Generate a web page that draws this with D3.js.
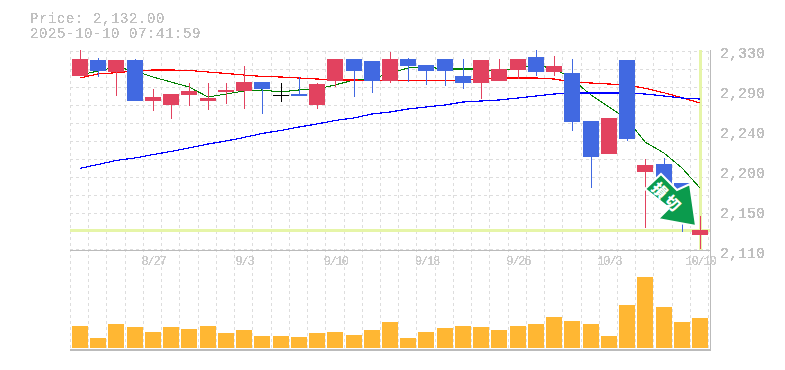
<!DOCTYPE html>
<html>
<head>
<meta charset="utf-8">
<script src="https://cdn.jsdelivr.net/npm/d3@7"></script>
<style>
  html, body { margin: 0; background: #fff; }
  svg { display: block; }
  text { font-family: "Liberation Mono", monospace; fill: #c0c0c0; }
</style>
</head>
<body>
<script>
const dates = ['8/21','8/22','8/25','8/26','8/27','8/28','8/29','9/1','9/2','9/3','9/4','9/5','9/8','9/9','9/10','9/11','9/12','9/16','9/17','9/18','9/19','9/22','9/24','9/25','9/26','9/29','9/30','10/1','10/2','10/3','10/6','10/7','10/8','10/9','10/10']
const opens = [2301,2319,2306,2319,2274,2270,2281,2274,2284,2285,2295,2280,2282,2270,2296,2320,2318,2296,2320,2314,2320,2301,2294,2296,2308,2322,2306,2305,2252,2216,2319,2196,2205,2184,2127]
const closes = [2320,2307,2319,2274,2278,2282,2285,2277,2286,2295,2287,2280,2279,2293,2320,2307,2296,2320,2312,2307,2307,2294,2319,2309,2320,2306,2312,2251,2212,2255,2232,2204,2183,2166,2132]
const highs = [2330,2321,2319,2320,2287,2282,2294,2294,2294,2312,2295,2294,2300,2294,2320,2320,2318,2328,2321,2314,2320,2320,2319,2320,2320,2330,2323,2320,2252,2255,2319,2210,2211,2184,2147]
const lows = [2301,2300,2279,2274,2263,2254,2268,2264,2271,2265,2260,2273,2279,2265,2289,2278,2283,2294,2295,2291,2290,2287,2276,2296,2298,2301,2301,2241,2178,2216,2230,2134,2170,2130,2111]
const volumes = [22,10,24,21,16,21,19,22,15,18,12,12,11,15,16,13,18,26,10,16,20,22,21,18,22,24,31,27,24,12,43,71,41,26,30]
const maShort = [2302.5,2306.9,2311.3,2306.9,2300.3,2294.8,2289.3,2278.3,2281.6,2284.9,2286,2283.8,2286,2287.1,2291.5,2297,2298.1,2304.7,2310.2,2311.3,2309.1,2309.1,2309.1,2305.8,2311.3,2312.4,2310.2,2298.1,2280.5,2267.3,2254.1,2228.8,2216.7,2200.2,2178.2]
const maMid = [2299.2,2303.6,2305,2306.9,2308,2308,2307.5,2305.8,2304.2,2302.5,2300.9,2300.3,2299.2,2298.1,2297,2297,2296.5,2296.5,2296.5,2296.5,2296.5,2297,2298.1,2299.2,2299.2,2299.2,2298.1,2294.8,2293.7,2292.6,2291.5,2287.9,2283,2277.5,2271.7]
const maLong = [2199.9,2204,2208.5,2211.2,2215,2218.4,2222.2,2226.6,2229.9,2233.8,2238.2,2241.5,2245.3,2248.6,2252.5,2255.2,2259.6,2261.8,2265.1,2267.3,2269.5,2272.8,2273.9,2275,2277.2,2279.4,2281.6,2282.7,2282.7,2282.7,2282.7,2281.6,2279.4,2277.2,2276.1]
const priceTicks = [2330,2286,2242,2198,2154,2110]
const dateTicks = ['8/27','9/3','9/10','9/18','9/26','10/3','10/10']
const lastPrice = 2132

const width = 785
const height = 370

const svg = d3.select('body').append('svg')
  .attr('width', width)
  .attr('height', height)

// hard threshold on alpha so text comes out jagged like the original
const filter = svg.append('defs').append('filter').attr('id', 'jag')
  .attr('x', 0).attr('y', 0).attr('width', 1).attr('height', 1)
filter.append('feComponentTransfer').append('feFuncA')
  .attr('type', 'discrete').attr('tableValues', '0 1 1')

const x = d3.scaleBand().domain(d3.range(dates.length)).range([70.9, 709.1])
const cx = (i) => Math.round(x(i) + x.bandwidth() / 2)
const y = d3.scaleLinear().domain([2110, 2330]).range([250, 50])
const py = (v) => Math.round(y(v))
const yVol = d3.scaleLinear().domain([0, 71]).range([348, 277])

// grid
const grid = svg.append('g')
  .attr('stroke', '#ddd')
  .attr('stroke-dasharray', '3,3')
  .attr('shape-rendering', 'crispEdges')
grid.selectAll('line.v')
  .data(d3.range(dates.length + 1))
  .enter().append('line')
  .attr('class', 'v')
  .attr('x1', (i) => cx(0) - 9.5 + Math.round(i * x.bandwidth()))
  .attr('x2', (i) => cx(0) - 9.5 + Math.round(i * x.bandwidth()))
  .attr('y1', 51)
  .attr('y2', 350)
grid.selectAll('line.h')
  .data(d3.range(51, 250, 18))
  .enter().append('line')
  .attr('class', 'h')
  .attr('x1', 70)
  .attr('x2', 710)
  .attr('y1', (d) => d + 0.5)
  .attr('y2', (d) => d + 0.5)

// last price highlight
svg.append('rect')
  .attr('x', 70).attr('width', 640)
  .attr('y', py(lastPrice) - 1).attr('height', 3)
  .attr('fill', '#e6f5a8')
svg.append('rect')
  .attr('x', cx(34) - 1).attr('width', 3)
  .attr('y', 50).attr('height', 200)
  .attr('fill', '#e6f5a8')

// frame
const frame = svg.append('g').attr('fill', '#bbb')
frame.append('rect').attr('x', 70).attr('y', 250).attr('width', 640).attr('height', 1)
frame.append('rect').attr('x', 70).attr('y', 349).attr('width', 641).attr('height', 2)
frame.append('rect').attr('x', 710).attr('y', 50).attr('width', 1).attr('height', 300)

// moving averages
const line = d3.line().x((d, i) => cx(i)).y((d) => y(d))
svg.selectAll('path.ma')
  .data([
    {values: maShort, color: '#008000', w: 1.1},
    {values: maMid, color: '#ff0000', w: 1.2},
    {values: maLong, color: '#0000ff', w: 1.2},
  ])
  .enter().append('path')
  .attr('class', 'ma')
  .attr('fill', 'none')
  .attr('shape-rendering', 'crispEdges')
  .attr('stroke', (d) => d.color)
  .attr('stroke-width', (d) => d.w)
  .attr('d', (d) => line(d.values))

// candles
const candleColor = (i) => {
  if (closes[i] > opens[i]) return '#e2425f'
  if (closes[i] < opens[i]) return '#4169e1'
  return '#000'
}
const candles = svg.selectAll('g.candle')
  .data(d3.range(dates.length))
  .enter().append('g')
  .attr('class', 'candle')
  .attr('fill', candleColor)
candles.append('rect')
  .attr('x', cx)
  .attr('width', 1)
  .attr('y', (i) => py(highs[i]))
  .attr('height', (i) => py(lows[i]) - py(highs[i]))
candles.append('rect')
  .attr('x', (i) => cx(i) - 8)
  .attr('width', 16)
  .attr('y', (i) => py(Math.max(opens[i], closes[i])))
  .attr('height', (i) => Math.max(1, py(Math.min(opens[i], closes[i])) - py(Math.max(opens[i], closes[i]))))

// volume
svg.selectAll('rect.vol')
  .data(volumes)
  .enter().append('rect')
  .attr('class', 'vol')
  .attr('x', (d, i) => cx(i) - 8)
  .attr('width', 16)
  .attr('y', (d) => Math.round(yVol(d)))
  .attr('height', (d) => 348 - Math.round(yVol(d)))
  .attr('fill', '#ffb733')

// sell marker, pointing at the last candle
const arrow = svg.append('g')
  .attr('transform', `translate(${cx(34) - 4},${py(lastPrice) - 4})`)
arrow.append('path')
  .attr('d', 'M-51,-37 L-35,-52 L-19,-36 L-6,-42 L0,0 L-38,-7 L-27,-18 Z')
  .attr('fill', '#0b9b4d')
  .attr('stroke', '#fff')
  .attr('stroke-width', 2)
arrow.append('text')
  .attr('transform', 'translate(-29,-28) rotate(45)')
  .attr('text-anchor', 'middle')
  .attr('dy', '0.35em')
  .style('font-family', '"Noto Sans CJK JP"')
  .style('font-weight', 900)
  .style('font-size', '15px')
  .style('fill', '#fff')
  .style('letter-spacing', '3px')
  .text('損切')

// axes
const priceAxis = d3.axisRight(y)
  .tickValues(priceTicks)
  .tickSize(0)
  .tickPadding(9)
  .tickFormat((d) => d3.format(',')(Math.round(d / 10) * 10))
svg.append('g')
  .attr('transform', 'translate(711,3)')
  .attr('filter', 'url(#jag)')
  .call(priceAxis)
  .call((g) => g.select('.domain').remove())
  .selectAll('text')
  .style('font-family', '"Liberation Mono", monospace')
  .style('font-size', '15px')
  .style('fill', '#c0c0c0')

const dateAxis = d3.axisBottom(d3.scalePoint().domain(dates).range([cx(0), cx(34)]))
  .tickValues(dateTicks)
  .tickSize(0)
  .tickPadding(5)
svg.append('g')
  .attr('transform', 'translate(0,251)')
  .attr('filter', 'url(#jag)')
  .call(dateAxis)
  .call((g) => g.select('.domain').remove())
  .selectAll('text')
  .style('font-family', '"Liberation Mono", monospace')
  .style('font-size', '12px')
  .style('letter-spacing', '-1.2px')
  .style('fill', '#ccc')

// price header
const header = svg.append('g').attr('filter', 'url(#jag)')
  .style('font-size', '14px').style('letter-spacing', '0.6px')
header.append('text').attr('x', 30).attr('y', 23).text('Price: ' + d3.format(',.2f')(lastPrice))
header.append('text').attr('x', 30).attr('y', 38).text('2025-10-10 07:41:59')
</script>
</body>
</html>
